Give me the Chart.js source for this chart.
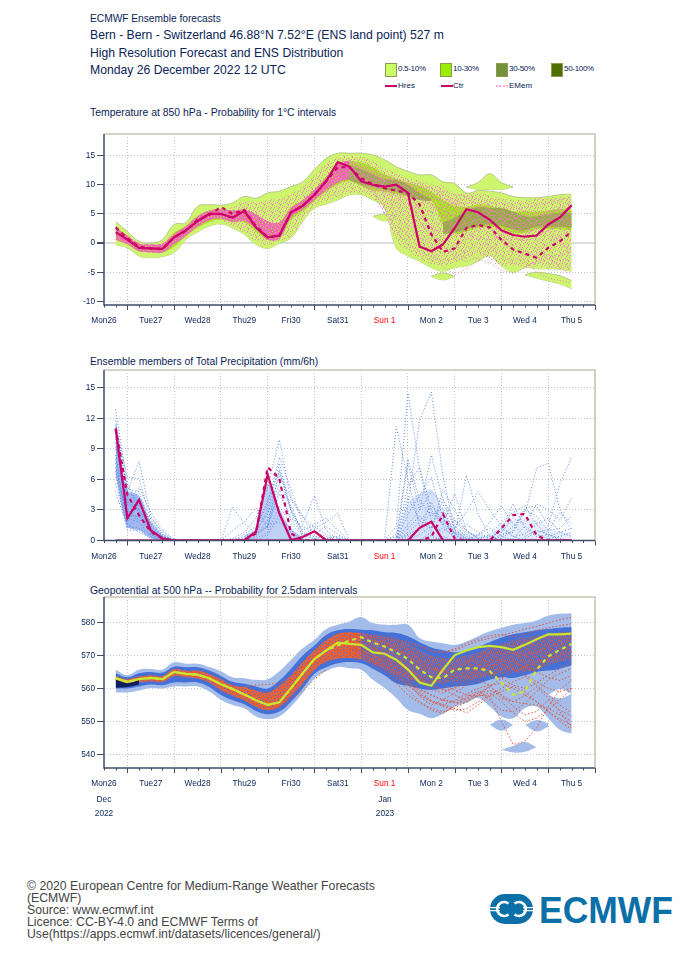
<!DOCTYPE html>
<html>
<head>
<meta charset="utf-8">
<title>ECMWF Ensemble forecasts</title>
<script src="https://cdn.jsdelivr.net/npm/chart.js@4"></script>
<style>
html, body { margin: 0; padding: 0; background: #fff; }
body { position: relative; width: 700px; height: 966px; overflow: hidden; font-family: "Liberation Sans", sans-serif; color: #0a2458; }
canvas { position: absolute; left: 0; }
.txt { position: absolute; white-space: nowrap; line-height: 1; }
.mid { position: absolute; white-space: nowrap; line-height: 1; font-size: 8.3px; transform: translateX(-50%); }
.swatch { position: absolute; width: 10px; height: 12px; border: 1px solid #8a9a50; }
.key { position: absolute; width: 12px; height: 0; border-top: 2px solid #cc0066; }
#footer { position: absolute; left: 27px; top: 880px; width: 380px; font-size: 12.25px; line-height: 12px; color: #444; }
#logo { position: absolute; left: 488px; top: 890px; }
</style>
</head>
<body>
<div class="txt" style="left:90px;top:14px;font-size:10.2px">ECMWF Ensemble forecasts</div>
<div class="txt" style="left:90px;top:29px;font-size:12.2px">Bern - Bern - Switzerland 46.88°N 7.52°E (ENS land point) 527 m</div>
<div class="txt" style="left:90px;top:47px;font-size:12.2px">High Resolution Forecast and ENS Distribution</div>
<div class="txt" style="left:90px;top:64px;font-size:12.2px">Monday 26 December 2022 12 UTC</div>

<div class="swatch" style="left:385px;top:63px;background:#ccff66"></div>
<div class="txt" style="left:398px;top:65px;font-size:8px;letter-spacing:-.3px">0.5-10%</div>
<div class="swatch" style="left:440px;top:63px;background:#99ee00"></div>
<div class="txt" style="left:453px;top:65px;font-size:8px;letter-spacing:-.3px">10-30%</div>
<div class="swatch" style="left:496px;top:63px;background:#74923a"></div>
<div class="txt" style="left:509px;top:65px;font-size:8px;letter-spacing:-.3px">30-50%</div>
<div class="swatch" style="left:551px;top:63px;background:#4d7000"></div>
<div class="txt" style="left:564px;top:65px;font-size:8px;letter-spacing:-.3px">50-100%</div>
<div class="key" style="left:385px;top:85px;border-top-style:dashed"></div>
<div class="txt" style="left:398px;top:82px;font-size:8px">Hres</div>
<div class="key" style="left:441px;top:85px"></div>
<div class="txt" style="left:453px;top:82px;font-size:8px">Ctr</div>
<div class="key" style="left:496px;top:85px;border-top:2px dotted #ffaad8"></div>
<div class="txt" style="left:509px;top:82px;font-size:8px">EMem</div>

<div class="txt" style="left:90px;top:108px;font-size:10.4px">Temperature at 850 hPa - Probability for 1°C intervals</div>
<div class="txt" style="left:90px;top:357px;font-size:10.3px">Ensemble members of Total Precipitation (mm/6h)</div>
<div class="txt" style="left:90px;top:586px;font-size:10.4px">Geopotential at 500 hPa -- Probability for 2.5dam intervals</div>

<canvas id="c-t850" width="700" height="210" style="top:125px"></canvas>
<canvas id="c-prec" width="700" height="210" style="top:361px"></canvas>
<canvas id="c-z500" width="700" height="210" style="top:588px"></canvas>

<div class="mid" style="left:104px;top:795px">Dec</div>
<div class="mid" style="left:104px;top:809px">2022</div>
<div class="mid" style="left:385px;top:795px">Jan</div>
<div class="mid" style="left:385px;top:809px">2023</div>

<div id="footer">© 2020 European Centre for Medium-Range Weather Forecasts<br>(ECMWF)<br>Source: www.ecmwf.int<br>Licence: CC-BY-4.0 and ECMWF Terms of<br>Use(https://apps.ecmwf.int/datasets/licences/general/)</div>
<svg id="logo" width="190" height="40" viewBox="0 0 190 40">
  <rect x="2" y="4" width="43" height="30" rx="15" fill="#0b6fa8"/>
  <path d="M2 17.6 H12 M35 17.6 H45 M2 20.6 H12 M35 20.6 H45" stroke="#fff" stroke-width="1.3"/>
  <path d="M20.5 13.5 A7 7 0 1 0 20.5 24.5" fill="none" stroke="#fff" stroke-width="2.6"/>
  <path d="M26.5 13.5 A7 7 0 1 1 26.5 24.5" fill="none" stroke="#fff" stroke-width="2.6"/>
  <text x="51" y="33" font-family="Liberation Sans" font-weight="bold" font-size="37.5" fill="#0b6fa8" textLength="134" lengthAdjust="spacingAndGlyphs">ECMWF</text>
</svg>

<script>
// === Axes ===
const dayLabels = ['Mon26', 'Tue27', 'Wed28', 'Thu29', 'Fri30', 'Sat31', 'Sun 1', 'Mon 2', 'Tue 3', 'Wed 4', 'Thu 5'];
const redDay = 'Sun 1';
const t850Ticks = [-10, -5, 0, 5, 10, 15];
const precTicks = [0, 3, 6, 9, 12, 15];
const z500Ticks = [540, 550, 560, 570, 580];

// === Temperature 850 hPa, 6h steps from +6h ===
const t850Ctr = [1.9, 0.6, -0.8, -0.9, -1.0, 1.0, 2.2, 3.75, 5.0, 5.0, 4.4, 5.5, 2.7, 1.0, 1.3, 5.3, 6.4, 8.3, 10.6, 13.9, 13.1, 10.6, 10.0, 9.7, 10.0, 8.6, -0.6, -1.4, -0.2, 2.6, 5.8, 5.3, 4.0, 2.2, 1.4, 1.1, 1.3, 3.2, 4.4, 6.5];
const t850Hres = [2.7, 0.8, -0.6, -0.9, -1.0, 1.0, 2.1, 4.0, 4.8, 6.2, 5.0, 5.7, 2.9, 1.0, 1.3, 5.3, 6.4, 8.3, 10.6, 13.0, 13.0, 11.1, 10.1, 9.4, 9.0, 8.6, 6.6, 1.5, -1.5, -0.9, 2.6, 3.1, 2.7, 0.6, -1.1, -1.8, -2.5, -0.8, 0.3, 2.0];
const t850OuterHi = [3.7, 2, 0.3, 0, 0.6, 3.2, 3.5, 6.3, 6.6, 6.5, 6.9, 8, 7.7, 8.6, 8.9, 9.7, 10.5, 12.6, 14.5, 15.4, 15.4, 15.4, 15.1, 14.3, 13.1, 12.3, 11.7, 11.7, 10.5, 10.2, 8.6, 9, 8.9, 8.6, 8, 7.8, 7.8, 8, 8.3, 8.4];
const t850OuterLo = [-0.3, -0.8, -2.2, -2.5, -2.3, -1.6, 0.6, 1.9, 2.9, 3.3, 2.6, 1.5, -0.2, -0.9, 0, 0.9, 3.75, 6, 6.7, 7.4, 8.3, 8.3, 7.4, 6, -0.8, -2.2, -3.1, -4.2, -4.8, -4.2, -3.9, -3.1, -2.2, -3.9, -5, -4.2, -4.4, -4.4, -4.5, -4.8];
const t850MidHi = [2.8, 1.2, -0.2, -0.4, -0.2, 1.8, 3, 4.6, 5.6, 5.7, 5.6, 5.6, 4.6, 3.4, 3.6, 6.2, 7.4, 9.2, 11.4, 13.4, 14, 13.8, 13, 11.8, 11, 10.4, 9.8, 8.8, 7.4, 6.4, 6.2, 6.6, 6.4, 5.8, 5.4, 5.4, 5.4, 5.6, 5.8, 5.8];
const t850MidLo = [0.6, -0.2, -1.4, -1.6, -1.6, -0.6, 1.2, 2.6, 3.6, 4, 3.6, 3.6, 2, 0.6, 0.8, 4, 5.4, 7.2, 8.8, 10, 10.6, 9.8, 9, 8.8, 8.4, 8, 7.6, 7.2, 3.4, 1.6, 2, 2.6, 2.8, 2.6, 1.8, 1.8, 2.4, 2.4, 2.4, 2.2];
// olive 30-50% patches
const t850OliveAHi = [13.6, 13.4, 12.6, 11.8, 11, 10.8, 10, 8.6, 7.6];
const t850OliveALo = [11.5, 10.8, 10, 9.6, 9.2, 8.8, 8, 7.4, 7.2];
const t850OliveBHi = [3.6, 4.4, 5.6, 6.2, 6, 6, 5.4, 4.6, 4.6, 5, 5.2, 5.2];
const t850OliveBLo = [1.6, 1.8, 2.4, 3, 3.2, 3, 2.4, 2.2, 2.8, 2.8, 2.8, 2.6];
// pink member cloud
const t850DenseHi = [2.6, 1.3, 0, -0.2, 0, 1.6, 2.9, 4.6, 5.6, 5.8, 5.6, 5.8, 5, 3.8, 3.6, 6, 7.4, 9.2, 11.2, 13.6, 14.2];
const t850DenseLo = [0.6, -0.2, -1.4, -1.6, -1.6, -0.2, 1.2, 2.8, 3.9, 4.2, 3.6, 3.8, 2.4, 0.6, 0.8, 4.4, 5.8, 7.4, 9, 10.4, 11];
const t850SparseHi = [5.8, 6.2, 7.2, 7, 7.4, 7.6, 8.4, 9.6, 11.6, 13.6, 14.8, 15, 14.8, 14, 12.8, 12, 11.2, 10.6, 10, 9.8, 8.4, 8.6, 8.6, 8.2, 7.6, 7.4, 7.4, 7.6, 7.8, 7.8, 8];
const t850SparseLo = [3.6, 3, 1.8, 0.4, -0.4, 0.4, 1.2, 4, 6.4, 7.2, 8, 8.6, 8.4, 7.8, 5, 0.6, -1.4, -2.6, -3.6, -3.8, -3.4, -2.6, -1.8, -3, -4, -3.8, -4, -4, -4.2, -4.4, -4.6];
// light green islands: start hour, upper, lower
const t850Islands = [
  [186, [9.6, 10.4, 11.9, 10.4, 9.6], [9.6, 9.2, 9.2, 9.2, 9.6]],
  [168, [-5.7, -5.1, -5.7], [-5.7, -6.3, -5.7]],
  [216, [-5.4, -5.0, -5.2, -5.6, -6.4], [-5.4, -6, -6.5, -7, -7.8]],
  [138, [4.6, 5, 4.6], [4.6, 3.8, 4.6]]
];
// members from +126h
const t850Members = [
  [13, 11.8, 11, 10.6, 10.2, 9.5, 8.6, 8, 7.2, 6.8, 6.9, 7, 6.5, 6, 5.8, 6.1, 6.5, 7, 7.4, 7.9],
  [12.5, 11, 10, 9, 7, 5, 3.2, 2.4, 2, 2.6, 3.4, 4, 4.2, 3.6, 3, 2.4, 2, 2.8, 3.6, 4.4],
  [12, 10.5, 9.2, 6, 2, -0.2, -1.5, -2.2, -3, -2.6, -1.2, 0, -0.5, -2, -3.5, -4, -3.2, -2.5, -2, -1.4],
  [14, 13, 12, 11.2, 10.5, 9.9, 9, 8.5, 8.2, 7.5, 6.4, 5.2, 4.8, 4.2, 4, 4.6, 5.2, 4.8, 4.2, 3.6],
  [13.4, 12, 11, 10, 9, 7.2, 5, 3, 1, -0.4, -1.6, -2.8, -3.4, -4.6, -5.2, -4.2, -3, -2, -3, -4.4],
  [12.8, 11.5, 10.2, 9.4, 8, 6, 4.2, 5.4, 6.2, 6.8, 6, 5, 3.6, 2, 0.8, 0.4, 1, 2.2, 3, 3.4],
  [13.6, 12.6, 11.6, 11, 10.8, 10.2, 9.6, 9.2, 8, 6.6, 4.8, 3.4, 1.6, 0.4, -1, -2, -1.4, 0, 1.4, 2.2],
  [11.6, 10, 8.6, 5, 3, 1.4, 0.2, -1.6, -4, -5.4, -4.4, -3, -1.6, 0.2, 1, 0.4, -1, -2.4, -4, -5.6],
  [14.2, 13.2, 12.2, 11.6, 11, 10.6, 10, 9.4, 8.8, 8.4, 8, 7.4, 7, 6.8, 6.2, 5.4, 4.6, 5.2, 5.8, 6],
  [12.2, 11, 9.6, 8.2, 5.4, 3, 2, 2.8, 3.6, 3, 1.4, 0.6, 2, 3.4, 4.2, 4.8, 3.8, 2, 0.4, -1.8],
  [13, 11.4, 10, 8.8, 8, 6.8, 6, 5.4, 4.4, 5, 5.6, 6.2, 5.2, 4, 2.6, 1.6, 2.4, 3.6, 5, 6.6],
  [12.6, 11.2, 10.4, 9.8, 9.2, 8.4, 5.8, 2.6, -0.4, -2.4, -3.2, -2.4, -1, 0.6, -0.8, -3, -5, -6, -6.4, -6.8],
  [13.2, 12.2, 11.4, 10.8, 9.8, 8.8, 7.6, 6.4, 4.8, 3.2, 1.8, 1, 0.6, 1.4, 2.8, 3.6, 4.4, 5.4, 5.8, 5],
  [12.4, 11.2, 9.8, 8.6, 6.4, 4, 1.2, -0.6, -1.8, -1, 0.8, 2.4, 3.6, 4.6, 5.2, 4.2, 2.8, 1.2, 0, -1],
  [13.8, 12.8, 11.8, 10.4, 9.4, 8, 6.8, 7.4, 7.6, 7.2, 7.6, 6.6, 5.8, 4.8, 3.6, 3, 3.6, 4.6, 6.2, 7.2],
  [11.9, 10.6, 9, 7, 4.4, 2.4, 0.8, 0, -0.8, -1.8, -2.6, -1.4, 0.2, 1.6, 0.2, -1.4, -2.2, -3.6, -2.8, -3],
  [13.1, 12, 10.8, 10, 9.6, 9, 7.8, 6.6, 5.6, 4.4, 3.2, 2.2, 2.8, 1.2, -0.4, 1, 3, 4, 4.6, 5.2],
  [12.7, 11.4, 10.2, 9.2, 8.4, 7.6, 3.8, 1, 0.4, 1.2, 2.2, 4.8, 5.6, 5.2, 4.6, 3.4, 0.6, -0.8, 1, 0.4]
];

// === Precipitation mm/6h ===
const precCtr = [11, 2.2, 4.0, 1.0, 0.2, 0, 0, 0, 0, 0, 0, 0.03, 0.85, 6.5, 2.65, 0.05, 0.35, 0.9, 0.03, 0, 0, 0, 0, 0, 0, 0, 1.25, 1.85, 0, 0, 0, 0, 0, 0, 0, 0, 0, 0, 0, 0];
const precHres = [11, 4.5, 2.5, 0.85, 0.2, 0, 0, 0, 0, 0, 0, 0, 0.7, 7.2, 6.1, 0.7, 0, 0, 0, 0, 0, 0, 0, 0, 0, 0, 0, 0.35, 2.6, 0.2, 0, 0, 0, 1.2, 2.5, 2.6, 0.5, 0, 0, 0];
const precBase = [0, 0, 0, 0, 0, 0, 0, 0, 0, 0, 0, 0, 0, 0, 0, 0, 0, 0, 0, 0, 0, 0, 0, 0, 0, 0, 0, 0, 0, 0, 0, 0, 0, 0, 0, 0, 0, 0, 0, 0];
const precMembersA = [ // from +6h
  [12.9, 5.4, 3, 1, 0.3, 0], [11.8, 4.8, 7.8, 2.4, 0.6, 0], [11.2, 6.2, 6.1, 2, 0.4, 0], [10.6, 5, 4.8, 1.6, 0.5, 0],
  [10, 3.4, 3.6, 1.2, 0.2, 0], [9.6, 2.4, 2.4, 0.8, 0.2, 0], [9, 4.2, 3, 1.4, 0.4, 0], [8.4, 1.4, 1.2, 0.6, 0.1, 0],
  [7.6, 2.2, 1.8, 0.4, 0, 0], [6.8, 1, 1, 0.2, 0, 0], [6.2, 3, 2, 1.8, 0.6, 0], [5.6, 1.6, 0.8, 0.3, 0, 0],
  [4.8, 1.2, 2.6, 0.8, 0.2, 0], [10.2, 3.6, 5.2, 2.8, 1, 0.1], [11.4, 2.6, 4.2, 0.6, 0.1, 0], [9.2, 5.6, 3.4, 2.2, 0.8, 0.1],
  [8, 3.8, 2.8, 1.8, 0.3, 0], [7.2, 1.8, 3.8, 1, 0.4, 0]
];
const precCloudAHi = [11.6, 5, 4.4, 1.8, 0.5, 0];
const precCloudALo = [6.5, 1.4, 1, 0.3, 0, 0];
const precMembersB = [ // from +60h
  [0, 3.3, 1.7, 0.6, 1.4, 5, 2, 0.6, 0.2, 0, 0, 0], [0, 1, 1.8, 3.2, 1.2, 7, 3, 0.8, 0.4, 0.2, 0, 0],
  [0, 0.2, 0.8, 2.2, 5.3, 9.9, 4, 2.3, 0.6, 1.4, 0.6, 0], [0, 0, 0.6, 1.4, 3.6, 8.2, 5, 1.6, 4.4, 1, 0.2, 0],
  [0, 0, 0.2, 1, 2.6, 6.4, 4.2, 2.4, 1.2, 1.8, 2.7, 0], [0, 0, 0.4, 0.8, 3, 7.6, 3, 1, 1.6, 2.2, 1, 0],
  [0, 0, 0.1, 0.6, 2, 5.6, 3.4, 0.6, 0.4, 0.2, 0.4, 0], [0, 0, 0, 0.4, 1.4, 4.6, 2.2, 1.4, 0.8, 0.4, 0, 0],
  [0, 0, 0, 0.2, 0.8, 3.4, 1.6, 0.4, 1.4, 0.6, 0.2, 0], [0, 0, 0, 0, 0.6, 2.4, 1, 0.2, 0, 0, 0, 0],
  [0, 0, 0.2, 0.6, 1.6, 1.8, 0.8, 0.1, 0, 0.2, 0.1, 0], [0, 0, 0.1, 1, 4, 6.8, 2.8, 0.4, 0.2, 0, 0, 0]
];
const precCloudBHi = [0.5, 1.2, 5.5, 3.2, 1.2, 0.3]; // from +72h
const precCloudBLo = [0, 0, 0, 0, 0, 0];
const precMembersC = [ // from +144h
  [0, 11.2, 6, 1.4, 0.4, 0, 0, 0, 0, 0, 0, 0, 0, 0, 0, 0, 0],
  [0, 1.4, 14.5, 7, 2, 0.2, 0, 0, 0, 0, 0, 0, 0, 0, 0, 0, 0],
  [0, 0, 3.6, 11.8, 14.6, 6.3, 1, 0.2, 0, 0, 0, 0, 0, 0, 0, 0, 0],
  [0, 0.6, 8, 4, 2.4, 3.2, 0.6, 0, 0, 0, 0, 0, 0, 0, 0, 0, 0],
  [0, 0, 7.6, 3, 8.4, 4, 1.4, 0.4, 0, 0, 0, 0, 0, 0, 0, 0, 0],
  [0, 0, 5.4, 7.2, 3, 1.6, 4.6, 1, 0.2, 0, 0, 0, 0, 0, 0, 0, 0],
  [0, 0, 2.6, 4.4, 6.2, 2.2, 0.6, 6.4, 2.6, 0.4, 0, 0, 0, 0, 0, 0, 0],
  [0, 0, 1.6, 3, 4.8, 3.6, 1.2, 2.8, 4.8, 3, 1.4, 0.4, 0, 0, 0, 0, 0],
  [0, 0.4, 4.2, 2, 1, 5, 3, 0.8, 0.4, 1.8, 3.4, 1.6, 0.4, 1, 0.6, 0.2, 0],
  [0, 0, 0.8, 1.8, 3.4, 2, 0.4, 1.6, 0.8, 0.2, 1, 3.6, 1.2, 0.4, 0.6, 0, 0],
  [0, 0, 0, 0.6, 1.4, 0.8, 2, 1, 0.2, 0.6, 1.8, 2.8, 3.4, 1.6, 0.4, 0.8, 1.2],
  [0, 0, 0, 0, 0.8, 1.2, 0.4, 0.2, 0, 0, 0.4, 1.4, 2.6, 7.1, 7.6, 3, 1],
  [0, 0, 0, 0, 0, 0.4, 0, 0, 0, 0, 0.2, 1, 3.2, 3.4, 1.4, 5.6, 8.2],
  [0, 0, 0, 0, 0, 0, 0, 0, 0.2, 0.4, 0.8, 2.2, 1.6, 3.6, 3, 2, 4.2],
  [0, 0, 0, 0, 0, 0, 0, 0, 0, 0, 0.6, 0.8, 3, 2.4, 1, 2.8, 1.6],
  [0, 0, 0.6, 1.2, 2.8, 1.6, 0.8, 0.2, 0, 0.2, 1.2, 0.4, 0.6, 1.6, 2.2, 0.8, 0.4],
  [0, 0, 1.2, 2.4, 1.2, 4, 2, 0.6, 0, 0, 0, 0.2, 1.4, 0.6, 0.2, 0.4, 0.8],
  [0, 0, 0.4, 1, 3.8, 1.4, 0.2, 0, 0.6, 1.2, 0.4, 0, 0.2, 0.8, 1, 1.2, 2.4]
];
const precCloudCHi = [0, 0.4, 3.6, 4.6, 5, 3, 1.2, 0.6]; // from +144h
const precCloudCLo = [0, 0, 0, 0, 0, 0, 0, 0];
const precCloudDHi = [0.8, 0.6, 0.6, 1.6, 2, 2.2, 2, 1.2, 0.9, 0.7]; // from +186h
const precCloudDLo = [0, 0, 0, 0, 0, 0, 0, 0, 0, 0];

// === Geopotential 500 hPa (dam) ===
const z500Ctr = [563.1, 562, 562.8, 563.2, 562.8, 565, 564.4, 564.2, 563.1, 561.3, 559.8, 558.2, 556.4, 555, 555.8, 560.1, 564.6, 568.9, 571.5, 573.9, 573.5, 573.2, 570.9, 570.5, 568.7, 565.7, 561.8, 560.8, 565.7, 570.1, 571.5, 572.5, 572.9, 572.5, 571.7, 573.2, 574.9, 576.4, 576.4, 576.6];
const z500Hres = [563.1, 562, 562.8, 563.2, 562.8, 565, 564.4, 564.2, 563.1, 561.3, 559.8, 558.2, 556.4, 555, 555.8, 560.1, 564.6, 568.9, 571.5, 573, 574.5, 575.5, 573.9, 572.7, 570.9, 568.9, 565.7, 563.4, 563.1, 565.7, 566.1, 566.1, 565.2, 561.8, 558.1, 559.1, 565.7, 569.7, 571.7, 573.5];
const z500OuterHi = [565.7, 564.1, 565.7, 565.9, 565.7, 567.9, 567.5, 567.5, 566.5, 565.2, 563.4, 563.1, 562.6, 562.8, 565.2, 568.7, 572.2, 574.7, 578, 579.3, 580.3, 581.6, 579.8, 579.3, 579.3, 579.3, 575.3, 574.2, 573.7, 573.2, 574.2, 575.8, 577.3, 578.3, 579.3, 579.8, 580.6, 582, 582.6, 582.8];
const z500OuterLo = [558.8, 558.8, 559.4, 560.1, 560, 560.6, 560.6, 560.6, 559.1, 556.6, 555, 554, 551.5, 550.7, 551.5, 554.5, 558.6, 563.1, 565.2, 566.5, 566.1, 565.7, 562.6, 560.1, 557.1, 553.5, 552.3, 551, 552.3, 554.5, 555.6, 557.1, 554.5, 551.5, 551, 554, 554.5, 551, 547.5, 546.3];
const z500MidHi = [564.6, 563.4, 564.6, 565, 564.8, 566.6, 566.4, 566.4, 565.4, 563.8, 562, 561.4, 560.6, 560, 562.4, 566, 570, 573, 576.2, 577.6, 578, 577.8, 577.6, 577, 576.8, 575.8, 574, 572.4, 571.6, 571, 571.4, 572.6, 574, 575.4, 576.4, 577, 577.6, 578, 578.4, 578.6];
const z500MidLo = [560, 560, 560.6, 561.2, 561, 561.8, 561.8, 561.8, 560.4, 558, 556.4, 555.2, 553.2, 552.2, 553, 556, 560, 564.4, 566.4, 567.6, 568, 567.6, 566, 564, 561.6, 560.8, 560, 559.6, 560, 560.6, 560.8, 561.4, 562.6, 563.4, 563.2, 564, 565, 565.4, 566, 567];
const z500CoreHi = [563.8, 562.8, 563.6, 564, 563.8, 565.8, 565.4, 565.4, 564.4, 562.8, 561, 560.4, 559.4, 558.8, 560.8, 564, 568, 571.6, 574.6, 576.6, 577, 576.8, 576.2, 575.6, 574.6, 573.4, 571.6, 570, 569.4, 569.4, 570, 571, 572.4, 573.4, 574.6, 575.4, 575.8, 576.4, 577, 577.2];
const z500CoreLo = [561.6, 561, 561.8, 562.2, 562, 563.8, 563.4, 563, 561.8, 559.4, 557.8, 556.4, 554.4, 553.4, 554.4, 557.6, 561.4, 565.6, 568, 569, 569.2, 568.8, 567.4, 566, 564.4, 563, 561.8, 561.4, 561.6, 562, 562.4, 563, 563.6, 564.4, 565, 565, 565.6, 567, 568, 568.6];
const z500NavyHi = [562.6, 561.6, 562.6];
const z500NavyLo = [560.2, 560.4, 561.2];
const z500Islands = [
  [198, [549, 550.6, 549], [549, 547.2, 549]],
  [204, [541.5, 542.6, 543.8, 542.2], [541.5, 540.6, 540.8, 542.2]],
  [216, [549, 550.4, 549.4], [549, 547, 548.4]]
];
const z500Holes = [[228, [558, 559.8, 558.4], [558, 557, 558.4]]];
const z500Early = [ // from +72h
  [560.6, 561, 561.2, 561.6, 563.6, 566.4, 569.6, 572.6],
  [556.4, 554.8, 553.6, 554.4, 556.8, 559.2, 562.8, 565.6]
];
const z500Members = [ // from +126h
  [575, 575.8, 575.4, 575, 574.6, 573.8, 572.8, 571.2, 570.8, 571.6, 573, 574.4, 575.2, 576, 577, 578, 578.8, 579.8, 580.8, 581.6],
  [572, 571.4, 570, 568.4, 566, 563, 560, 558, 556.4, 556, 557, 558.6, 559.4, 558, 556, 555.4, 555, 554, 552, 550],
  [574, 573.6, 572.4, 570.8, 568.8, 566.2, 563.4, 561, 559.4, 560, 562, 564, 565, 563, 561, 560, 561.6, 564, 566, 568],
  [570, 569.4, 567.4, 565, 561.6, 558, 555.6, 554, 553, 554, 556, 558, 557.6, 550, 543, 544, 548, 554.5, 559.6, 562.6],
  [573, 572, 570, 567.6, 564.4, 561, 558, 556, 555, 556.4, 558.4, 560, 561, 561.6, 560, 558, 556, 553, 550, 547.6],
  [576, 576.6, 576, 575.8, 575, 574, 573, 571.6, 571, 572, 573.6, 575, 576, 576.4, 575.6, 576.4, 577.6, 578.4, 579, 579.6],
  [573.4, 572.6, 571, 569, 566.6, 564, 561.6, 559.6, 558.6, 560.4, 563, 565.6, 567, 567.4, 566, 564, 562, 560, 559, 560],
  [571, 570, 568, 566, 563.6, 561, 558.4, 556, 554.6, 553.4, 553.8, 556, 558, 560, 562, 563.6, 561, 558, 555, 552.6],
  [574.6, 574.6, 574, 573, 571.6, 570, 568, 566, 565, 566, 568, 569.6, 570.6, 571, 570.6, 570, 571, 572.6, 574, 575],
  [572.6, 571.6, 569.6, 567, 564, 561.4, 559.6, 558, 556.6, 555.6, 556, 558, 560.6, 563, 565, 566.4, 568, 569, 570, 571],
  [575.4, 575.4, 574.6, 573.6, 572, 570, 567, 564, 561, 559.6, 558, 557.6, 558.6, 556, 552.6, 550, 551, 553.4, 556.6, 560],
  [570.6, 570, 568.4, 566, 564, 562, 559, 556.4, 555, 554, 552.6, 555, 557.6, 559, 560.6, 559, 556, 553, 550.6, 549],
  [572.2, 571, 568.6, 566, 563, 559.6, 556, 553.4, 552.4, 554.6, 557.6, 559.2, 556.6, 553.4, 553, 555.4, 559, 562.6, 564.6, 566],
  [573.6, 573, 571.6, 570, 568, 565.6, 562.6, 560.6, 559.8, 558, 556.6, 558.6, 560.6, 558, 554.6, 552, 553, 556.4, 553.4, 551.6],
  [571.8, 571, 569, 566.8, 565, 562.6, 557.6, 555, 556.6, 558.6, 561, 562.6, 561, 557, 556, 557.8, 560.4, 557, 553, 548],
  [575.8, 575.6, 574.8, 574, 573, 571.6, 569, 566.6, 564.6, 563.4, 564, 566.8, 568.6, 568.8, 568, 566.6, 565, 563.4, 562.4, 564]
];

// === Helpers ===
// speckle fill, rows of a small bitmap
function speckle(color, rows) {
    const tile = document.createElement('canvas');
    tile.width = rows[0].length;
    tile.height = rows.length;
    const g = tile.getContext('2d');
    g.fillStyle = color;
    rows.forEach((row, y) => [...row].forEach((c, x) => { if (c === '#') g.fillRect(x, y, 1, 1); }));
    return g.createPattern(tile, 'repeat');
}
const DENSE = ['######', '#.####', '####.#', '######', '##.###', '#####.'];
const MEDIUM = ['#..#.#..', '.#...#.#', '#.#.#...', '...#..#.', '.#..#..#', '#...#.#.', '..#...#.', '.#.#.#..'];
const SPARSE = ['#.......', '....#...', '..#....#', '......#.', '.#......', '.....#..', '...#...#', '#.......'];

function toXY(vals, start) {
    return vals.map((y, i) => ({ x: start + i * 6, y }));
}
function line(vals, start, color, width, dash) {
    return { data: toXY(vals, start), borderColor: color, borderWidth: width, borderDash: dash || [], pointRadius: 0, fill: false, tension: 0 };
}
function band(hi, lo, start, fillColor, edge) {
    const common = { pointRadius: 0, tension: 0.4, borderWidth: edge ? 1 : 0, borderColor: edge || 'transparent' };
    return [
        { ...common, data: toXY(hi, start), fill: '+1', backgroundColor: fillColor },
        { ...common, data: toXY(lo, start), fill: false }
    ];
}

// Draws the frame and the day/6h tick marks from the x scale
const frame = {
    id: 'frame',
    afterDraw(chart) {
        const { ctx, chartArea: a, scales: { x } } = chart;
        ctx.save();
        ctx.strokeStyle = '#c9c3b4';
        ctx.lineWidth = 1.5;
        ctx.beginPath();
        ctx.moveTo(a.left, a.top); ctx.lineTo(a.right, a.top); ctx.lineTo(a.right, a.bottom);
        ctx.stroke();
        ctx.strokeStyle = '#3f4c68';
        ctx.beginPath();
        ctx.moveTo(a.left, a.top); ctx.lineTo(a.left, a.bottom); ctx.lineTo(a.right, a.bottom);
        ctx.stroke();
        ctx.lineWidth = 1;
        for (let h = 0; h <= x.max; h += 6) {
            const px = Math.round(x.getPixelForValue(h)) + 0.5;
            ctx.beginPath();
            ctx.moveTo(px, a.bottom);
            ctx.lineTo(px, a.bottom + (h % 24 === 12 ? 5 : 2.5));
            ctx.stroke();
        }
        ctx.restore();
    }
};

function drawPanel(id, datasets, yMin, yMax, yTicks, plotTop, plotH) {
    const canvas = document.getElementById(id);
    const isZero = c => c.tick && c.tick.value === 0 && id === 'c-t850';
    return new Chart(canvas, {
        type: 'line',
        data: { datasets },
        options: {
            responsive: false,
            animation: false,
            devicePixelRatio: 1,
            parsing: false,
            normalized: true,
            layout: { padding: { left: 70, right: 105, top: plotTop, bottom: canvas.height - plotTop - plotH - 25 } },
            plugins: { legend: { display: false }, tooltip: { enabled: false } },
            scales: {
                x: {
                    type: 'linear', min: 0, max: 252,
                    afterFit: s => { s.height = 25; },
                    afterBuildTicks: s => { s.ticks = dayLabels.map((d, i) => [{ value: i * 24 }, { value: i * 24 + 12 }]).flat(); },
                    border: { display: false, dash: [1, 2] },
                    grid: { drawTicks: false, color: c => (c.tick && c.tick.value % 24 === 12 ? '#c4c4c4' : 'transparent'), lineWidth: 1 },
                    ticks: {
                        autoSkip: false, maxRotation: 0, padding: 11,
                        font: { family: 'Liberation Sans', size: 8.3 },
                        color: c => (dayLabels[c.tick.value / 24] === redDay ? '#ff0000' : '#0a2458'),
                        callback: v => (v % 24 === 0 ? dayLabels[v / 24] : '')
                    }
                },
                y: {
                    min: yMin, max: yMax,
                    afterFit: s => { s.width = 34; },
                    afterBuildTicks: s => { s.ticks = yTicks.map(value => ({ value })); },
                    border: { display: false, dash: c => (isZero(c) ? [] : [1, 2]) },
                    grid: {
                        tickLength: 7, tickColor: '#3f4c68', tickBorderDash: [],
                        color: c => (isZero(c) ? '#dddddd' : '#c4c4c4'),
                        lineWidth: c => (isZero(c) ? 2 : 1)
                    },
                    ticks: { padding: 2, font: { family: 'Liberation Sans', size: 8.3 }, color: '#0a2458' }
                }
            }
        },
        plugins: [frame]
    });
}

// === Charts (datasets listed top layer first) ===
const PINK = '#cc0066';
const LIGHT_GREEN = '#cdf56e';
const LIGHT_BLUE = '#a3bce9';
const DOT_BLUE = '#5f8ae6';
const DOT_RED = '#e2553a';

drawPanel('c-t850', [
    line(t850Ctr, 6, PINK, 2.2),
    line(t850Hres, 6, PINK, 2.2, [4, 4]),
    ...t850Members.map(m => line(m, 126, '#f47ccb', 1, [1, 2])),
    ...band(t850DenseHi, t850DenseLo, 6, speckle('#f06ab4', DENSE)),
    ...band(t850SparseHi, t850SparseLo, 60, speckle('#f27cc8', SPARSE)),
    ...band(t850OliveAHi, t850OliveALo, 120, '#93b03e'),
    ...band(t850OliveBHi, t850OliveBLo, 174, '#93b03e'),
    ...band(t850MidHi, t850MidLo, 6, '#a9e41e'),
    ...t850Islands.map(([h, hi, lo]) => band(hi, lo, h, LIGHT_GREEN, '#b8c98a')).flat(),
    ...band(t850OuterHi, t850OuterLo, 6, LIGHT_GREEN, '#b8c98a')
], -10.6, 18.7, t850Ticks, 9, 171);

drawPanel('c-prec', [
    line(precCtr, 6, PINK, 2.2),
    line(precHres, 6, PINK, 2.2, [4, 4]),
    line(precBase, 6, '#a8447e', 2.5),
    ...precMembersA.map(m => line(m, 6, DOT_BLUE, 1, [1, 2])),
    ...precMembersB.map(m => line(m, 60, DOT_BLUE, 1, [1, 2])),
    ...precMembersC.map(m => line(m, 144, DOT_BLUE, 1, [1, 2])),
    ...band(precCloudAHi, precCloudALo, 6, 'rgba(95,138,230,0.6)'),
    ...band(precCloudBHi, precCloudBLo, 72, 'rgba(95,138,230,0.4)'),
    ...band(precCloudCHi, precCloudCLo, 144, 'rgba(95,138,230,0.25)'),
    ...band(precCloudDHi, precCloudDLo, 186, 'rgba(95,138,230,0.15)')
], 0, 16.77, precTicks, 9, 170.5);

drawPanel('c-z500', [
    line(z500Ctr, 6, '#cbe62e', 2.2),
    line(z500Hres, 6, '#cbe62e', 2.2, [4, 4]),
    ...z500Members.map(m => line(m, 126, DOT_RED, 1, [1.5, 2])),
    ...z500Early.map(m => line(m, 72, DOT_RED, 1, [1.5, 2])),
    ...band(z500NavyHi, z500NavyLo, 6, '#0b1f5c'),
    ...band(z500CoreHi.slice(0, 22), z500CoreLo.slice(0, 22), 6, speckle('#e6603a', DENSE)),
    ...band(z500CoreHi.slice(21), z500CoreLo.slice(21), 132, speckle('#e2583c', MEDIUM)),
    ...band(z500MidHi, z500MidLo, 6, '#4470d8'),
    ...z500Holes.map(([h, hi, lo]) => band(hi, lo, h, '#ffffff')).flat(),
    ...z500Islands.map(([h, hi, lo]) => band(hi, lo, h, LIGHT_BLUE)).flat(),
    ...band(z500OuterHi, z500OuterLo, 6, LIGHT_BLUE)
], 535.9, 587.7, z500Ticks, 9, 171);
</script>
</body>
</html>
